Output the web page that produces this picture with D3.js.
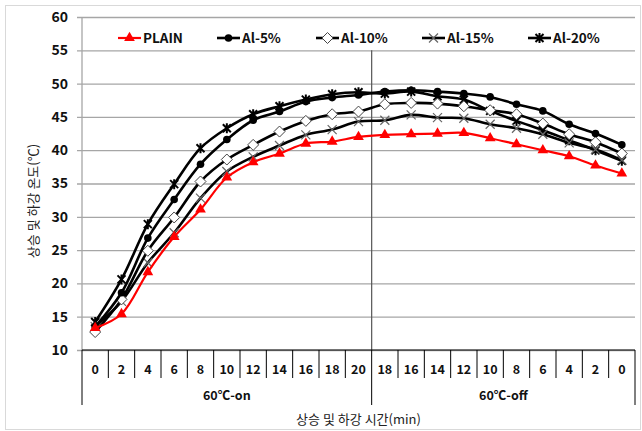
<!DOCTYPE html>
<html>
<head>
<meta charset="utf-8">
<script src="https://cdn.jsdelivr.net/npm/d3@7"></script>
<style>
  body { margin: 0; background: #fff; }
  text { font-family: "Noto Sans CJK KR", "Open Sans", sans-serif; }
</style>
</head>
<body>
<script>
// categories: heating (on) 0..20 min, cooling (off) 18..0 min
var onLabels = ["0", "2", "4", "6", "8", "10", "12", "14", "16", "18", "20"];
var offLabels = ["18", "16", "14", "12", "10", "8", "6", "4", "2", "0"];
var categories = onLabels.concat(offLabels);
var groups = ["60℃-on", "60℃-off"];

var plain = [13.3, 15.4, 21.7, 27.0, 31.1, 35.9, 38.2, 39.5, 41.0, 41.3, 42.0, 42.3, 42.4, 42.5, 42.6, 41.8, 40.9, 40.0, 39.1, 37.7, 36.5];
var al5 = [13.5, 18.6, 26.8, 32.6, 37.9, 41.6, 44.5, 45.8, 47.3, 47.9, 48.3, 48.8, 49.0, 48.8, 48.5, 48.0, 46.9, 45.9, 43.9, 42.5, 40.8];
var al10 = [12.7, 17.6, 24.9, 29.9, 35.3, 38.6, 40.8, 42.8, 44.4, 45.4, 45.8, 46.9, 47.1, 47.0, 46.6, 46.0, 45.4, 44.0, 42.4, 41.2, 39.5];
var al15 = [13.5, 17.3, 23.1, 27.6, 32.8, 36.8, 39.0, 40.7, 42.3, 43.1, 44.3, 44.5, 45.3, 44.9, 44.8, 43.9, 43.3, 42.4, 41.1, 40.1, 38.5];
var al20 = [14.2, 20.6, 28.9, 34.9, 40.3, 43.3, 45.4, 46.6, 47.6, 48.4, 48.7, 48.5, 48.8, 48.1, 47.6, 45.9, 44.4, 43.0, 41.5, 40.0, 38.4];

var seriesNames = ["PLAIN", "Al-5%", "Al-10%", "Al-15%", "Al-20%"];
var yTicks = [10, 15, 20, 25, 30, 35, 40, 45, 50, 55, 60];

var series = [
  { name: seriesNames[0], values: plain, color: "#ff0000", marker: "triangle" },
  { name: seriesNames[1], values: al5, color: "#000", marker: "circle" },
  { name: seriesNames[2], values: al10, color: "#000", marker: "diamond" },
  { name: seriesNames[3], values: al15, color: "#000", marker: "cross" },
  { name: seriesNames[4], values: al20, color: "#000", marker: "star" }
];

var W = 642, H = 431;
var padding = { left: 82, right: 7, top: 17, bottom: 81 };
var width = W - padding.left - padding.right;
var height = H - padding.top - padding.bottom;

var svg = d3.select("body").append("svg").attr("width", W).attr("height", H);

// chart frame
svg.append("rect")
  .attr("x", 5.5).attr("y", 5.5).attr("width", 635).attr("height", 424)
  .attr("fill", "none").attr("stroke", "#d9d9d9");

var g = svg.append("g").attr("transform", "translate(" + padding.left + "," + padding.top + ")");

var x = d3.scaleBand().domain(d3.range(categories.length)).range([0, width]);
var y = d3.scaleLinear().domain([10, 60]).range([height, 0]);

// grid + y axis
var yAxis = d3.axisLeft(y).tickValues(yTicks).tickSize(-width - 5).tickPadding(8);
var yg = g.append("g").attr("transform", "translate(-5,0)").call(yAxis);
yg.select(".domain").remove();
yg.selectAll(".tick line").attr("stroke", "#a6a6a6").attr("stroke-width", 1.3);
yg.selectAll(".tick text")
  .attr("x", -9).attr("dx", 0)
  .style("font-size", "14px").style("font-weight", "bold").attr("fill", "#111");

g.append("line").attr("x1", 0).attr("x2", 0).attr("y1", 0).attr("y2", height)
  .attr("stroke", "#a6a6a6").attr("stroke-width", 1.3);

// divider between on / off
var splitX = x(onLabels.length);
g.append("line").attr("x1", splitX).attr("x2", splitX).attr("y1", y(55)).attr("y2", height)
  .attr("stroke", "#555").attr("stroke-width", 1.2);

// x axis: categories with separators
var xa = g.append("g").attr("transform", "translate(0," + height + ")");
xa.append("line").attr("x1", 0).attr("x2", width).attr("stroke", "#000").attr("stroke-width", 1.2);
xa.selectAll("line.sep")
  .data(d3.range(categories.length + 1))
  .enter().append("line")
  .attr("class", "sep")
  .attr("x1", function (i) { return i < categories.length ? x(i) : width; })
  .attr("x2", function (i) { return i < categories.length ? x(i) : width; })
  .attr("y1", 0)
  .attr("y2", function (i) { return (i === 0 || i === onLabels.length || i === categories.length) ? 55 : 28; })
  .attr("stroke", "#000").attr("stroke-width", 1);
xa.selectAll("text.cat")
  .data(categories)
  .enter().append("text")
  .attr("class", "cat")
  .attr("x", function (d, i) { return x(i) + x.bandwidth() / 2; })
  .attr("y", 24)
  .attr("text-anchor", "middle")
  .style("font-size", "12.5px").style("font-weight", "bold").attr("fill", "#111")
  .text(function (d) { return d; });
xa.selectAll("text.grp")
  .data(groups)
  .enter().append("text")
  .attr("class", "grp")
  .attr("x", function (d, i) { return i === 0 ? splitX / 2 : (splitX + width) / 2; })
  .attr("y", 50)
  .attr("text-anchor", "middle")
  .style("font-size", "12.5px").style("font-weight", "bold").attr("fill", "#111")
  .text(function (d) { return d; });

// axis titles
svg.append("text")
  .attr("x", padding.left + width / 2).attr("y", 424)
  .attr("text-anchor", "middle")
  .style("font-size", "13px").attr("fill", "#222")
  .text("상승 및 하강 시간(min)");
svg.append("text")
  .attr("transform", "translate(38,201) rotate(-90)")
  .attr("text-anchor", "middle")
  .style("font-size", "13px").attr("fill", "#222")
  .text("상승 및 하강 온도(℃)");

// markers
function drawMarker(sel, type, color) {
  if (type === "triangle") {
    sel.append("path").attr("d", d3.symbol(d3.symbolTriangle, 50)()).attr("fill", color);
  } else if (type === "circle") {
    sel.append("circle").attr("r", 3.8).attr("fill", "#000");
  } else if (type === "diamond") {
    sel.append("path").attr("d", "M0,-5.5L5.5,0L0,5.5L-5.5,0Z")
      .attr("fill", "#fff").attr("stroke", "#444").attr("stroke-width", 1);
  } else if (type === "cross") {
    sel.append("path").attr("d", "M-4.5,-4.5L4.5,4.5M-4.5,4.5L4.5,-4.5")
      .attr("stroke", "#666").attr("stroke-width", 1.2);
  } else if (type === "star") {
    sel.append("path").attr("d", "M-4,-4L4,4M-4,4L4,-4M0,-5L0,5")
      .attr("stroke", "#000").attr("stroke-width", 2);
  }
}

var line = d3.line()
  .x(function (d, i) { return x(i) + x.bandwidth() / 2; })
  .y(function (d) { return y(d); })
  .curve(d3.curveCatmullRom.alpha(0.5));

// draw back to front so PLAIN sits on top
series.slice().reverse().forEach(function (s) {
  var sg = g.append("g");
  sg.append("path").datum(s.values)
    .attr("d", line).attr("fill", "none")
    .attr("stroke", s.color).attr("stroke-width", s.marker === "triangle" ? 2.2 : 2.6);
  sg.selectAll("g.pt").data(s.values).enter().append("g")
    .attr("class", "pt")
    .attr("transform", function (d, i) { return "translate(" + (x(i) + x.bandwidth() / 2) + "," + y(d) + ")"; })
    .each(function () { drawMarker(d3.select(this), s.marker, s.color); });
});

// legend
var legendX = [118, 217, 316, 422, 528];
var legend = svg.append("g").attr("transform", "translate(0,38)");
series.forEach(function (s, i) {
  var lg = legend.append("g").attr("transform", "translate(" + legendX[i] + ",0)");
  lg.append("line").attr("x1", 0).attr("x2", 23).attr("y1", 0).attr("y2", 0)
    .attr("stroke", s.color).attr("stroke-width", s.marker === "triangle" ? 2.2 : 2.6);
  var m = lg.append("g").attr("transform", "translate(11.5,0)");
  drawMarker(m, s.marker, s.color);
  lg.append("text").attr("x", 25).attr("y", 5)
    .style("font-size", "13.5px").style("font-weight", "bold").attr("fill", "#111")
    .text(s.name);
});
</script>
</body>
</html>
